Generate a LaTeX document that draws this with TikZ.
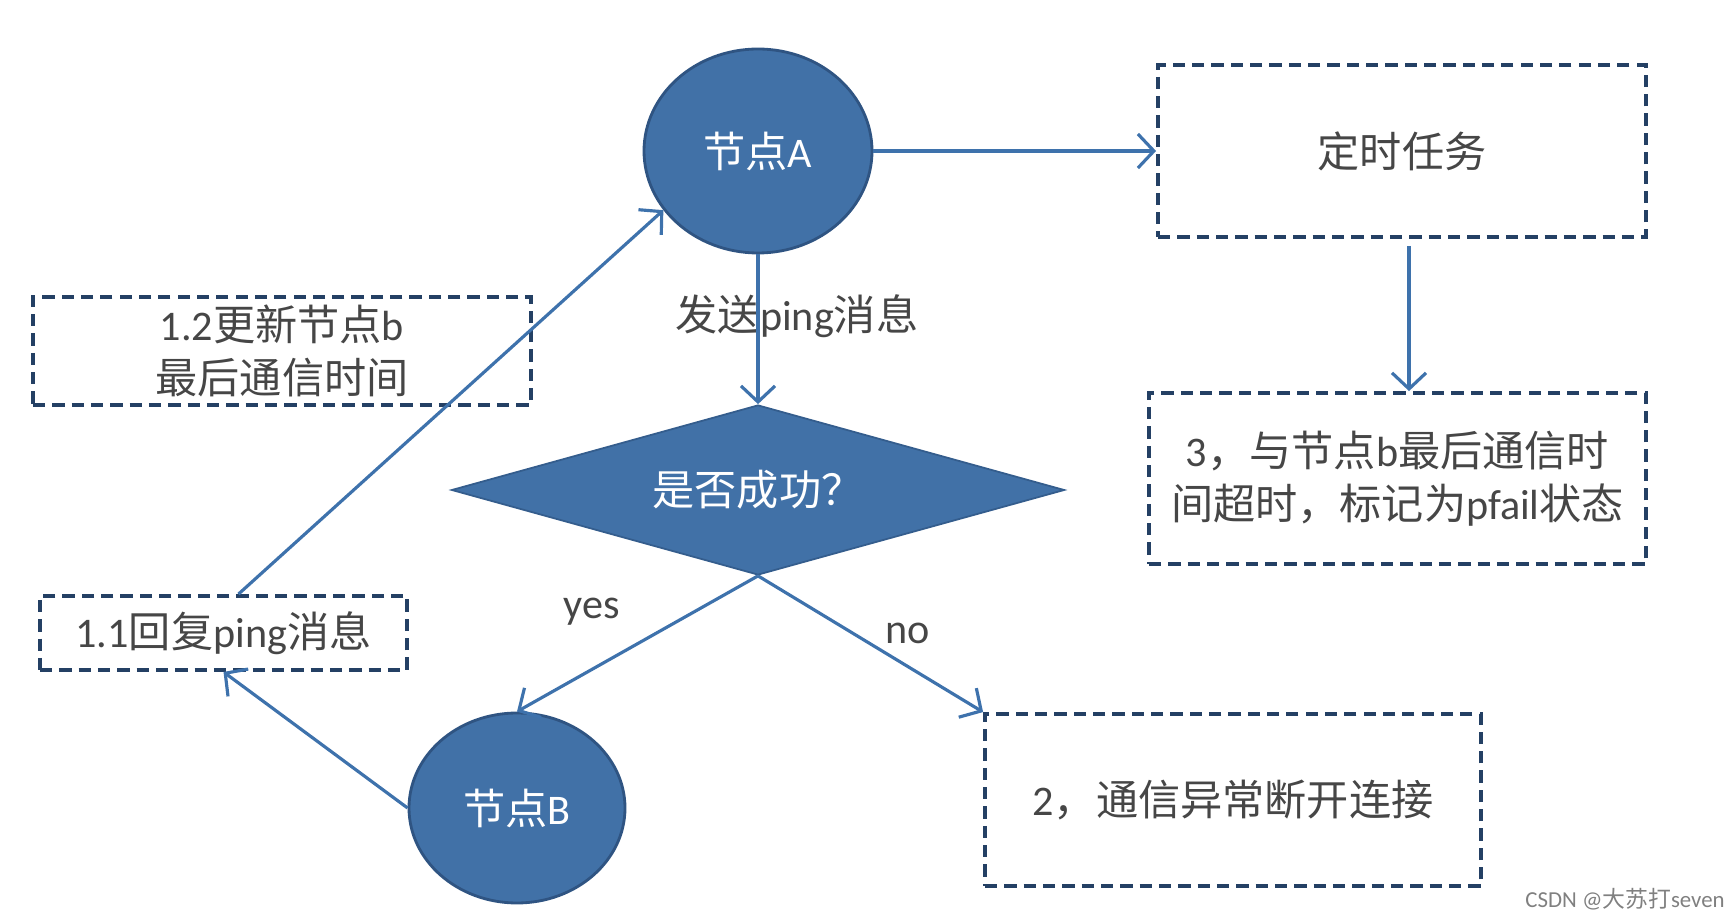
\documentclass[tikz,border=0pt]{standalone}
\usepackage{fontspec}
\setmainfont{Carlito}
\newfontfamily\cjk{Noto Sans CJK SC}
\usepackage{tikz}
\usetikzlibrary{shapes.geometric}
\usetikzlibrary{arrows.meta}
\definecolor{nodeblue}{RGB}{65,113,167}
\definecolor{nodeedge}{RGB}{47,84,130}
\definecolor{arrowblue}{RGB}{62,114,172}
\definecolor{boxedge}{RGB}{36,64,100}
\definecolor{txtgray}{RGB}{70,70,70}

\tikzset{
  bluenode/.style={ellipse, fill=nodeblue, draw=nodeedge, line width=0.8pt, text=white, inner sep=0pt},
  dashbox/.style={draw=boxedge, line width=1.1pt, dash pattern=on 3.5pt off 2pt, text=txtgray, align=center, inner sep=0pt},
  arr/.style={draw=arrowblue, line width=0.9pt, -{Straight Barb[length=1.6mm,width=3.4mm]}},
  lbl/.style={text=txtgray}
}

\begin{document}
\begin{tikzpicture}[font=\fontsize{12}{15}\selectfont]
\useasboundingbox (0,0) rectangle (17.36,9.18);

\node[bluenode, minimum width=2.28cm, minimum height=2.04cm] (A) at (7.58,7.67) {{\cjk 节点}A};
\node[dashbox, minimum width=4.88cm, minimum height=1.72cm] (timer) at (14.02,7.67) {\cjk 定时任务};
\node[dashbox, minimum width=4.97cm, minimum height=1.71cm] (timeout) at (13.975,4.395)
 {3{\cjk ，与节点}b{\cjk 最后通信时}\\{\cjk 间超时，标记为}pfail{\cjk 状态}};
\node[diamond, aspect=3.6, fill=nodeblue, draw=nodeedge!70!nodeblue, line width=0.5pt, text=white,
 minimum width=6.13cm, minimum height=1.7cm, inner sep=0pt] (check) at (7.58,4.28) {\cjk 是否成功？};
\node[bluenode, minimum width=2.16cm, minimum height=1.9cm] (B) at (5.17,1.10) {{\cjk 节点}B};
\node[dashbox, minimum width=4.96cm, minimum height=1.72cm] (lost) at (12.33,1.18) {2{\cjk ，通信异常断开连接}};
\node[dashbox, minimum width=4.98cm, minimum height=1.08cm] (update) at (2.82,5.67)
 {1.2{\cjk 更新节点}b\\{\cjk 最后通信时间}};
\node[dashbox, minimum width=3.67cm, minimum height=0.74cm] (reply) at (2.235,2.85) {1.1{\cjk 回复}ping{\cjk 消息}};

% labels
\node[lbl] (send) at (7.97,6.02) {{\cjk 发送}ping{\cjk 消息}};
\node[lbl] (yes) at (5.92,3.06) {yes};
\node[lbl] (no) at (9.08,2.85) {no};
\node[text=gray, font=\fontsize{6.5}{8}\selectfont] (mark) at (16.25,0.19) {CSDN @{\cjk 大苏打}seven};

% arrows
\draw[arr] (A) -- (timer);
\draw[arr, shorten <=2pt] ([xshift=0.07cm]timer.south) -- ([xshift=0.07cm]timer.south |- timeout.north);
\draw[arr] (A) -- (check);
\draw[arr] (check.south) -- (B.north);
\draw[arr] (check.south) -- (lost.north west);
\draw[arr] (B.west) -- (reply.south);
\draw[arr] ([xshift=0.15cm]reply.north) -- (A.212);
\end{tikzpicture}
\end{document}
